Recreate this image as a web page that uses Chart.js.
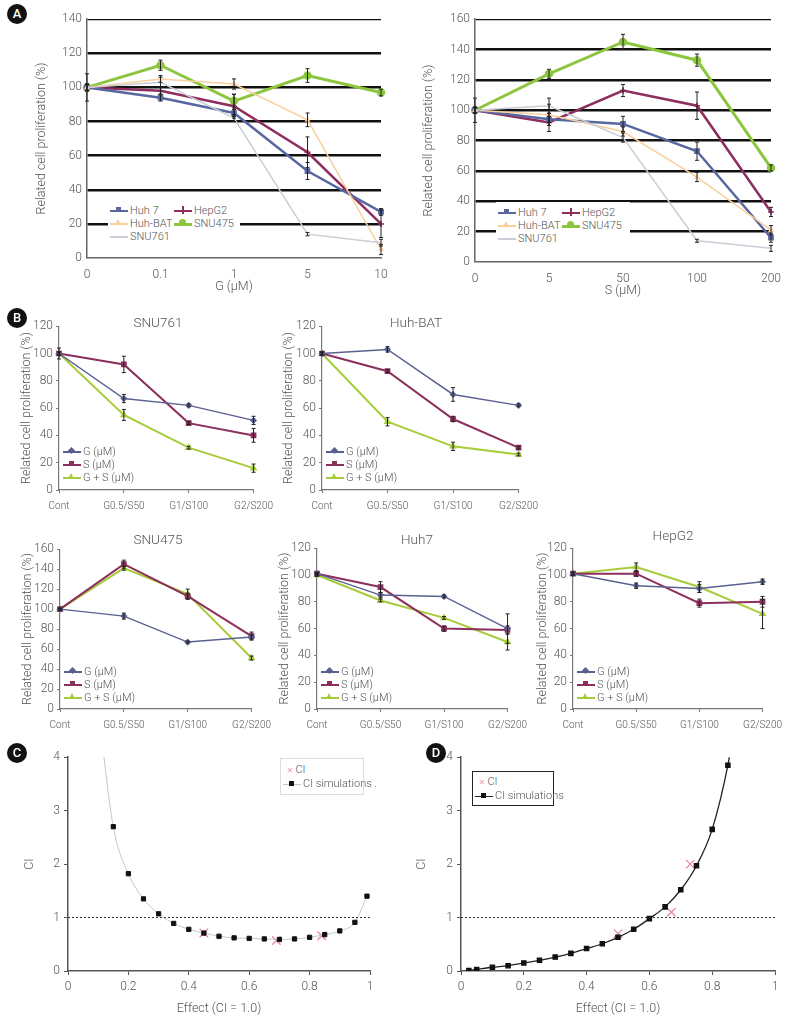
<!DOCTYPE html>
<html>
<head>
<meta charset="utf-8">
<script src="https://cdn.jsdelivr.net/npm/chart.js@4.4.1/dist/chart.umd.min.js"></script>
<style>
  body { margin: 0; background: #fff; }
  #page { position: relative; width: 789px; height: 1018px; overflow: hidden; font-family: Roboto, 'Open Sans', sans-serif; font-weight: 300; color: #555; }
  .tag { position: absolute; width: 20px; height: 20px; border-radius: 50%; background: #111; color: #fff; font: 500 13px Roboto, sans-serif; text-align: center; line-height: 20px; z-index: 3; }
  .ttl { position: absolute; font-size: 13.5px; color: #555; transform: translate(-50%, -50%); white-space: nowrap; z-index: 3; }
  .lg { position: absolute; background: #fff; z-index: 2; }
  .it { position: absolute; font-size: 11px; line-height: 12px; white-space: nowrap; color: #555; }
  .it i { display: inline-block; position: relative; vertical-align: middle; margin-right: 2px; }
</style>
</head>
<body>
<div id="page">
  <div class="tag" style="left:7px;top:4px">A</div>
  <div class="tag" style="left:7px;top:308px">B</div>
  <div class="tag" style="left:7px;top:743px">C</div>
  <div class="tag" style="left:426px;top:743px">D</div>
</div>
<script>
// ---- data ----
const doseG = ["0", "0.1", "1", "5", "10"];
const doseS = ["0", "5", "50", "100", "200"];

// panel A, G dose
const gHuh7 = [100, 94, 85, 51, 27];
const gHuh7Err = [2, 2, 2, 5, 2];
const gHepG2 = [100, 98, 89, 62, 20];
const gHepG2Err = [8, 2, 7, 9, 8];
const gHuhBAT = [100, 105, 102, 81, 5];
const gHuhBATErr = [2, 2, 3, 4, 3];
const gSNU475 = [100, 113, 92, 107, 97];
const gSNU475Err = [2, 3, 4, 4, 2];
const gSNU761 = [100, 103, 82, 14, 9];
const gSNU761Err = [2, 3, 2, 1, 2];

// panel A, S dose
const sHuh7 = [100, 94, 91, 73, 16];
const sHuh7Err = [2, 2, 5, 6, 3];
const sHepG2 = [100, 92, 113, 103, 33];
const sHepG2Err = [8, 6, 4, 9, 3];
const sHuhBAT = [100, 97, 86, 56, 21];
const sHuhBATErr = [2, 7, 3, 3, 3];
const sSNU475 = [100, 124, 145, 133, 62];
const sSNU475Err = [2, 3, 5, 4, 2];
const sSNU761 = [100, 103, 82, 14, 9];
const sSNU761Err = [2, 5, 3, 1, 2];

// panel B, combinations
const combos = ["Cont", "G0.5/S50", "G1/S100", "G2/S200"];
const snu761G = [100, 67, 62, 51],  snu761GErr = [4, 3, 1, 3];
const snu761S = [100, 92, 49, 40],  snu761SErr = [1, 6, 1, 5];
const snu761GS = [100, 55, 31, 16], snu761GSErr = [1, 4, 1, 3];
const batG = [100, 103, 70, 62],    batGErr = [1, 2, 5, 1];
const batS = [100, 87, 52, 31],     batSErr = [1, 1, 2, 1];
const batGS = [100, 50, 32, 26],    batGSErr = [1, 3, 3, 1];
const snu475G = [100, 93, 67, 72],  snu475GErr = [1, 3, 1, 2];
const snu475S = [100, 145, 113, 73], snu475SErr = [1, 4, 3, 4];
const snu475GS = [100, 141, 115, 51], snu475GSErr = [1, 2, 5, 2];
const huh7G = [101, 85, 84, 60],    huh7GErr = [1, 2, 1, 11];
const huh7S = [101, 91, 60, 59],    huh7SErr = [1, 4, 2, 3];
const huh7GS = [100, 81, 68, 50],   huh7GSErr = [1, 1, 1, 6];
const hepG = [101, 92, 90, 95],     hepGErr = [1, 2, 3, 2];
const hepS = [101, 101, 79, 80],    hepSErr = [1, 2, 3, 4];
const hepGS = [101, 106, 91, 71],   hepGSErr = [1, 3, 4, 11];

// panel C
const effC = [0.1, 0.15, 0.2, 0.25, 0.3, 0.35, 0.4, 0.45, 0.5, 0.55, 0.6, 0.65, 0.7, 0.75, 0.8, 0.85, 0.9, 0.95, 0.99];
const simC = [4.9, 2.7, 1.82, 1.35, 1.07, 0.89, 0.78, 0.71, 0.65, 0.62, 0.61, 0.6, 0.59, 0.6, 0.63, 0.68, 0.75, 0.91, 1.4];
const ciEffC = [0.45, 0.69, 0.84];
const ciValC = [0.71, 0.57, 0.66];

// panel D
const effD = [0.025, 0.05, 0.1, 0.15, 0.2, 0.25, 0.3, 0.35, 0.4, 0.45, 0.5, 0.55, 0.6, 0.65, 0.7, 0.75, 0.8, 0.85, 0.86];
const simD = [0.01, 0.03, 0.07, 0.1, 0.15, 0.2, 0.26, 0.33, 0.42, 0.51, 0.63, 0.78, 0.98, 1.2, 1.52, 1.97, 2.65, 3.85, 4.2];
const ciEffD = [0.5, 0.67, 0.73];
const ciValD = [0.7, 1.1, 2.0];
const ciRef = 1;

// ---- styling ----
const FAM = "Roboto, 'Open Sans', sans-serif";
const tickFont = { family: FAM, size: 12, weight: 300 };
const smallFont = { family: FAM, size: 10, weight: 300 };
const titleFont = { family: FAM, size: 12.5, weight: 300 };
Chart.defaults.color = '#555';

const colHuh7 = '#5867a0', colHepG2 = '#8e2d5e', colBAT = '#f9cf9e', colSNU475 = '#8cc63e', colSNU761 = '#c9cdd6';
const colG = '#5a6190', colS = '#8c2f5c', colGS = '#a6cc3a';

const page = document.getElementById('page');

// draws +/- error bars from each dataset's err array
const errorBars = {
  id: 'errorBars',
  afterDatasetsDraw(chart) {
    const ctx = chart.ctx, y = chart.scales.y;
    chart.data.datasets.forEach((ds, i) => {
      if (!ds.err) return;
      const meta = chart.getDatasetMeta(i);
      ctx.save();
      ctx.strokeStyle = '#222';
      ctx.lineWidth = 1;
      meta.data.forEach((pt, j) => {
        const v = ds.data[j], e = ds.err[j];
        const y1 = y.getPixelForValue(v - e), y2 = y.getPixelForValue(v + e);
        ctx.beginPath();
        ctx.moveTo(pt.x, y1); ctx.lineTo(pt.x, y2);
        ctx.moveTo(pt.x - 2, y1); ctx.lineTo(pt.x + 2, y1);
        ctx.moveTo(pt.x - 2, y2); ctx.lineTo(pt.x + 2, y2);
        ctx.stroke();
      });
      ctx.restore();
    });
  }
};

// plot = wanted chart area on the page; yW / xH = axis box sizes
function mk(plot, yW, xH, padR, config) {
  const c = document.createElement('canvas');
  const left = plot.l - yW - 2, top = plot.t - 8;
  const w = plot.r + padR - left, h = plot.b + xH + 2 - top;
  c.width = w; c.height = h;
  c.style.cssText = `position:absolute;left:${left}px;top:${top}px;width:${w}px;height:${h}px`;
  page.appendChild(c);
  config.options = Object.assign({
    responsive: false,
    animation: false,
    layout: { padding: { left: 2, top: 8, right: padR, bottom: 2 } },
    plugins: { legend: { display: false }, tooltip: { enabled: false } }
  }, config.options);
  config.options.scales.y.afterFit = s => { s.width = yW; };
  config.options.scales.x.afterFit = s => { s.height = xH; };
  config.plugins = [errorBars];
  return new Chart(c, config);
}

function ds(label, data, err, color, style, r, lw) {
  return {
    label, data, err,
    borderColor: color, backgroundColor: color,
    pointStyle: style, pointRadius: r, pointBorderWidth: 1.5,
    borderWidth: lw, tension: 0
  };
}

// ---- panel A ----
function panelA(plot, yW, labels, sets, yMax, xTitle) {
  mk(plot, yW, 36, 14, {
    type: 'line',
    data: { labels, datasets: sets },
    options: {
      scales: {
        x: {
          grid: { display: false },
          border: { color: '#666', width: 1.5 },
          ticks: { font: tickFont, padding: 2, maxRotation: 0, autoSkip: false },
          title: { display: true, text: xTitle, font: titleFont, padding: 0 }
        },
        y: {
          min: 0, max: yMax,
          ticks: { stepSize: 20, font: tickFont, padding: 5 },
          grid: { color: '#111', drawTicks: false,
                  lineWidth: c => c.tick.value === 0 ? 0 : (c.tick.value === yMax ? 1.2 : 2.5) },
          border: { color: '#666', width: 1.5 },
          title: { display: true, text: 'Related cell proliferation (%)', font: titleFont, padding: 0 }
        }
      }
    }
  });
}

panelA({ l: 87, r: 381, t: 15, b: 258 }, 53, doseG, [
  ds('SNU761', gSNU761, gSNU761Err, colSNU761, 'circle', 0, 1.5),
  ds('Huh-BAT', gHuhBAT, gHuhBATErr, colBAT, 'triangle', 2, 1.5),
  ds('Huh 7', gHuh7, gHuh7Err, colHuh7, 'rect', 3, 2.5),
  ds('HepG2', gHepG2, gHepG2Err, colHepG2, 'cross', 3, 2.5),
  ds('SNU475', gSNU475, gSNU475Err, colSNU475, 'circle', 3.5, 3)
], 140, 'G (μM)');

panelA({ l: 475, r: 771, t: 15, b: 262 }, 54, doseS, [
  ds('SNU761', sSNU761, sSNU761Err, colSNU761, 'circle', 0, 1.5),
  ds('Huh-BAT', sHuhBAT, sHuhBATErr, colBAT, 'triangle', 2, 1.5),
  ds('Huh 7', sHuh7, sHuh7Err, colHuh7, 'rect', 3, 2.5),
  ds('HepG2', sHepG2, sHepG2Err, colHepG2, 'cross', 3, 2.5),
  ds('SNU475', sSNU475, sSNU475Err, colSNU475, 'circle', 3.5, 3)
], 160, 'S (μM)');

// ---- panel B ----
function panelB(plot, yW, name, g, gE, s, sE, gs, gsE, yMax) {
  mk(plot, yW, 27, 22, {
    type: 'line',
    data: {
      labels: combos,
      datasets: [
        ds('G (μM)', g, gE, colG, 'rectRot', 2.5, 1.5),
        ds('S (μM)', s, sE, colS, 'rect', 3, 2),
        ds('G + S (μM)', gs, gsE, colGS, 'triangle', 3, 2)
      ]
    },
    options: {
      scales: {
        x: {
          grid: { drawOnChartArea: false, color: '#777', tickLength: 3 },
          border: { color: '#777', width: 1.2 },
          ticks: { font: smallFont, padding: 7, maxRotation: 0, autoSkip: false }
        },
        y: {
          min: 0, max: yMax,
          ticks: { stepSize: 20, font: tickFont, padding: 3 },
          grid: { drawOnChartArea: false, color: '#777', tickLength: 3 },
          border: { color: '#777', width: 1.2 },
          title: { display: true, text: 'Related cell proliferation (%)', font: titleFont, padding: 0 }
        }
      }
    }
  });
  const t = document.createElement('div');
  t.className = 'ttl';
  t.textContent = name;
  page.appendChild(t);
  return t;
}

panelB({ l: 59, r: 258, t: 324, b: 490 }, 40, 'SNU761', snu761G, snu761GErr, snu761S, snu761SErr, snu761GS, snu761GSErr, 120)
  .style.cssText = 'left:158px;top:322px';
panelB({ l: 322, r: 523, t: 324, b: 490 }, 41, 'Huh-BAT', batG, batGErr, batS, batSErr, batGS, batGSErr, 120)
  .style.cssText = 'left:416px;top:322px';
panelB({ l: 60, r: 256, t: 547, b: 709 }, 40, 'SNU475', snu475G, snu475GErr, snu475S, snu475SErr, snu475GS, snu475GSErr, 160)
  .style.cssText = 'left:158px;top:539px';
panelB({ l: 317, r: 512, t: 546, b: 709 }, 40, 'Huh7', huh7G, huh7GErr, huh7S, huh7SErr, huh7GS, huh7GSErr, 120)
  .style.cssText = 'left:417px;top:539px';
panelB({ l: 573, r: 767, t: 546, b: 709 }, 38, 'HepG2', hepG, hepGErr, hepS, hepSErr, hepGS, hepGSErr, 120)
  .style.cssText = 'left:673px;top:535px';

// ---- panels C and D ----
function xy(xs, ys) { return xs.map((x, i) => ({ x, y: ys[i] })); }

function panelCI(plot, yW, eff, sim, ciX, ciY, simColor, simWidth, hideFirst) {
  const radii = eff.map((_, i) => (hideFirst ? i === 0 : i === eff.length - 1) ? 0 : 3);
  mk(plot, yW, 45, 12, {
    type: 'scatter',
    data: {
      datasets: [
        { data: [{ x: 0, y: ciRef }, { x: 1, y: ciRef }], showLine: true, borderColor: '#333',
          borderWidth: 1, borderDash: [2, 2], pointRadius: 0 },
        { data: xy(eff, sim), showLine: true, borderColor: simColor, borderWidth: simWidth,
          cubicInterpolationMode: 'monotone', pointStyle: 'rect', pointRadius: radii,
          backgroundColor: '#111', pointBorderColor: '#111' },
        { data: xy(ciX, ciY), pointStyle: 'crossRot', pointRadius: 6, borderColor: '#e58a9c',
          pointBorderWidth: 1.3 }
      ]
    },
    options: {
      scales: {
        x: {
          type: 'linear', min: 0, max: 1,
          grid: { drawOnChartArea: false, color: '#555', tickLength: 4 },
          border: { color: '#555', width: 1.5 },
          ticks: { stepSize: 0.2, font: tickFont, padding: 5, maxRotation: 0,
                   callback: v => String(Math.round(v * 10) / 10) },
          title: { display: true, text: 'Effect (CI = 1.0)', font: titleFont, padding: 0 }
        },
        y: {
          min: 0, max: 4,
          grid: { drawOnChartArea: false, color: '#555', tickLength: 4 },
          border: { color: '#555', width: 1.5 },
          ticks: { stepSize: 1, font: tickFont, padding: 4 },
          title: { display: true, text: 'CI', font: titleFont, padding: 0 }
        }
      }
    }
  });
}

panelCI({ l: 68, r: 370, t: 754, b: 971 }, 46, effC, simC, ciEffC, ciValC, '#c3c7cc', 1, true);
panelCI({ l: 461, r: 775, t: 754, b: 971 }, 47, effD, simD, ciEffD, ciValD, '#222', 1.3, false);

// ---- legends (HTML overlays) ----
function swatch(color, lw, marker, mColor) {
  const mc = mColor || color;
  let m = '';
  if (marker === 'circle') m = `<b style="position:absolute;left:5px;top:-4px;width:7px;height:7px;border-radius:50%;background:${mc}"></b>`;
  if (marker === 'rect') m = `<b style="position:absolute;left:6px;top:-3px;width:5px;height:5px;background:${mc}"></b>`;
  if (marker === 'tri') m = `<b style="position:absolute;left:5px;top:-4px;width:0;height:0;border-left:3px solid transparent;border-right:3px solid transparent;border-bottom:6px solid ${mc}"></b>`;
  if (marker === 'dia') m = `<b style="position:absolute;left:6px;top:-3px;width:5px;height:5px;background:${mc};transform:rotate(45deg)"></b>`;
  if (marker === 'plus') m = `<b style="position:absolute;left:8px;top:-4px;width:1.5px;height:8px;background:${mc}"></b>`;
  return `<i style="width:18px;height:${lw}px;background:${color}">${m}</i>`;
}
function legend(box, items) {
  const d = document.createElement('div');
  d.className = 'lg';
  d.style.cssText = `left:${box.x}px;top:${box.y}px;width:${box.w}px;height:${box.h}px;` + (box.border || '');
  items.forEach(it => {
    const s = document.createElement('div');
    s.className = 'it';
    s.style.left = it.x + 'px';
    s.style.top = it.y + 'px';
    s.innerHTML = it.html;
    d.appendChild(s);
  });
  page.appendChild(d);
}

const aItems = [
  { x: 2, y: 5, html: swatch(colHuh7, 2.5, 'rect') + 'Huh 7' },
  { x: 66, y: 5, html: swatch(colHepG2, 2.5, 'plus') + 'HepG2' },
  { x: 2, y: 18, html: swatch(colBAT, 1.5, 'tri') + 'Huh-BAT' },
  { x: 66, y: 18, html: swatch(colSNU475, 3, 'circle') + 'SNU475' },
  { x: 2, y: 31, html: swatch(colSNU761, 1.5, '') + 'SNU761' }
];
legend({ x: 108, y: 200, w: 132, h: 46 }, aItems);
legend({ x: 496, y: 202, w: 134, h: 46 }, aItems);

const bItems = [
  { x: 0, y: 0, html: swatch(colG, 1.5, 'dia') + 'G (μM)' },
  { x: 0, y: 13, html: swatch(colS, 2, 'rect') + 'S (μM)' },
  { x: 0, y: 26, html: swatch(colGS, 2, 'tri') + 'G + S (μM)' }
];
legend({ x: 63, y: 446, w: 70, h: 38 }, bItems);
legend({ x: 326, y: 446, w: 70, h: 38 }, bItems);
legend({ x: 64, y: 666, w: 70, h: 38 }, bItems);
legend({ x: 321, y: 666, w: 70, h: 38 }, bItems);
legend({ x: 577, y: 666, w: 70, h: 38 }, bItems);

legend({ x: 280, y: 758, w: 82, h: 35, border: 'border:1px solid #ddd;' }, [
  { x: 6, y: 5, html: '<span style="color:#e58a9c">×</span> CI' },
  { x: 2, y: 19, html: swatch('#c3c7cc', 1, 'rect', '#111') + 'CI simulations .' }
]);
legend({ x: 472, y: 771, w: 80, h: 33, border: 'border:1px solid #222;' }, [
  { x: 6, y: 4, html: '<span style="color:#e58a9c">×</span> CI' },
  { x: 2, y: 18, html: swatch('#222', 1, 'rect', '#111') + 'CI simulations' }
]);
</script>
</body>
</html>
